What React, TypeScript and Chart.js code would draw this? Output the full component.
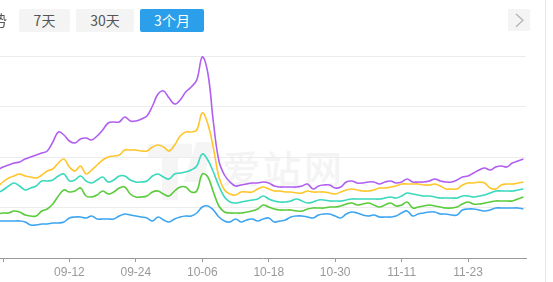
import React, { useEffect, useRef } from "react";
import { Chart, registerables } from "chart.js";

Chart.register(...registerables);

const dates = [
  "08-30", "08-31",
  "09-01", "09-02", "09-03", "09-04", "09-05", "09-06", "09-07", "09-08", "09-09", "09-10",
  "09-11", "09-12", "09-13", "09-14", "09-15", "09-16", "09-17", "09-18", "09-19", "09-20",
  "09-21", "09-22", "09-23", "09-24", "09-25", "09-26", "09-27", "09-28", "09-29", "09-30",
  "10-01", "10-02", "10-03", "10-04", "10-05", "10-06", "10-07", "10-08", "10-09", "10-10",
  "10-11", "10-12", "10-13", "10-14", "10-15", "10-16", "10-17", "10-18", "10-19", "10-20",
  "10-21", "10-22", "10-23", "10-24", "10-25", "10-26", "10-27", "10-28", "10-29", "10-30", "10-31",
  "11-01", "11-02", "11-03", "11-04", "11-05", "11-06", "11-07", "11-08", "11-09", "11-10",
  "11-11", "11-12", "11-13", "11-14", "11-15", "11-16", "11-17", "11-18", "11-19", "11-20",
  "11-21", "11-22", "11-23", "11-24", "11-25", "11-26", "11-27", "11-28", "11-29", "11-30",
  "12-01", "12-02", "12-03",
];

// indices (into dates) that carry a tick mark on the x axis
const tickIndices = [1, 13, 25, 37, 49, 61, 73, 85];
const hiddenTickLabels = ["08-31"];
const yGridValues = [0, 50.5, 101, 151.5, 202];

const purple = [
  88, 91, 93, 95, 96, 99, 101, 103, 105, 107,
  116, 126, 123, 117, 115, 119, 120, 118, 122, 128,
  135, 136, 136, 141, 137, 137, 139, 142, 152, 164,
  167, 160, 154, 158, 166, 171, 178, 201, 185, 136,
  97, 83, 76, 72, 73, 74, 75, 75, 76, 75,
  72, 71, 71, 71, 71, 72, 74, 69, 72, 73,
  73, 70, 71, 76, 77, 75, 75, 76, 76, 74,
  76, 77, 75, 76, 79, 76, 76, 76, 77, 79,
  77, 76, 76, 78, 81, 82, 85, 88, 90, 88,
  91, 92, 91, 95, 97, 99,
];

const yellow = [
  71, 76, 80, 82, 84, 82, 81, 80, 83, 87,
  89, 95, 99, 91, 87, 92, 84, 88, 93, 98,
  101, 102, 103, 108, 108, 108, 107, 107, 111, 113,
  111, 107, 113, 122, 126, 126, 128, 145, 134, 110,
  81, 68, 64, 63, 66, 66, 66, 69, 71, 69,
  67, 67, 66, 66, 65, 65, 67, 66, 66, 66,
  65, 64, 66, 68, 69, 68, 67, 67, 68, 70,
  70, 71, 72, 74, 74, 74, 74, 73, 73, 74,
  72, 69, 69, 69, 73, 75, 75, 76, 75, 70,
  69, 73, 74, 74, 75, 76,
];

const teal = [
  65, 68, 72, 75, 72, 68, 70, 72, 77, 77,
  78, 82, 84, 77, 78, 82, 77, 75, 78, 81,
  76, 78, 82, 82, 78, 76, 76, 77, 82, 84,
  81, 79, 84, 85, 86, 88, 92, 104, 98, 86,
  72, 61, 56, 55, 56, 57, 58, 59, 62, 59,
  57, 56, 56, 57, 59, 57, 55, 56, 58, 58,
  57, 57, 57, 58, 59, 59, 59, 59, 59, 59,
  60, 61, 60, 62, 65, 64, 63, 62, 62, 61,
  60, 60, 60, 60, 62, 62, 61, 62, 63, 65,
  67, 67, 67, 67, 68, 69,
];

const green = [
  44, 45, 45, 47, 46, 43, 42, 42, 47, 49,
  54, 62, 68, 66, 67, 70, 62, 61, 63, 67,
  64, 66, 70, 71, 64, 61, 61, 62, 66, 67,
  64, 62, 67, 71, 71, 66, 67, 84, 81, 66,
  52, 46, 45, 45, 45, 46, 47, 49, 53, 51,
  49, 48, 48, 48, 47, 47, 49, 50, 50, 50,
  51, 51, 52, 54, 55, 53, 54, 55, 53, 51,
  53, 55, 52, 53, 56, 50, 51, 52, 53, 52,
  51, 50, 50, 51, 54, 56, 54, 54, 55, 56,
  57, 57, 57, 57, 59, 61,
];

const blue = [
  37, 37, 37, 37, 37, 36, 33, 33, 34, 34,
  35, 35, 36, 40, 41, 41, 40, 42, 39, 39,
  39, 39, 42, 44, 43, 42, 41, 40, 37, 41,
  38, 36, 39, 41, 42, 42, 45, 51, 52, 48,
  41, 37, 36, 39, 36, 38, 39, 37, 39, 40,
  36, 37, 38, 41, 42, 42, 41, 40, 43, 44,
  44, 42, 40, 44, 46, 45, 43, 42, 43, 41,
  41, 41, 42, 45, 47, 42, 44, 45, 46, 46,
  44, 44, 43, 43, 48, 49, 49, 48, 47, 48,
  50, 50, 50, 50, 50, 49,
];

const seriesList = [
  { name: "purple", values: purple, color: "#b05ff0" },
  { name: "yellow", values: yellow, color: "#ffc62b" },
  { name: "teal", values: teal, color: "#3ad9bd" },
  { name: "green", values: green, color: "#5acb3b" },
  { name: "blue", values: blue, color: "#3ea5f1" },
];

function ChartCanvas() {
  const ref = useRef<HTMLCanvasElement | null>(null);
  useEffect(() => {
    if (!ref.current) return;
    const chart = new Chart(ref.current, {
      type: "line",
      data: {
        datasets: seriesList.map((s) => ({
          label: s.name,
          data: s.values.map((v, i) => ({ x: i, y: v })),
          borderColor: s.color,
          backgroundColor: s.color,
          borderWidth: 1.6,
          pointRadius: 0,
          tension: 0.4,
          fill: false,
        })),
      },
      options: {
        responsive: false,
        animation: false,
        devicePixelRatio: 1,
        events: [],
        layout: { padding: { left: 0, right: 27, top: 56, bottom: 7 } },
        plugins: { legend: { display: false }, tooltip: { enabled: false } },
        scales: {
          x: {
            type: "linear",
            min: 0.458,
            max: 95.47,
            afterBuildTicks: (scale: any) => {
              scale.ticks = tickIndices.map((v) => ({ value: v }));
            },
            grid: {
              drawOnChartArea: false,
              drawTicks: true,
              tickLength: 4,
              color: "#9a9a9a",
            },
            border: { display: true, color: "#9a9a9a", width: 1 },
            ticks: {
              autoSkip: false,
              maxRotation: 0,
              padding: 3,
              color: "#999999",
              font: { family: '"Liberation Sans", Arial, sans-serif', size: 12, lineHeight: 1.25 },
              callback: (value: any) => {
                const label = dates[Math.round(Number(value))];
                return hiddenTickLabels.includes(label) ? "" : label;
              },
            },
          },
          y: {
            min: 0,
            max: 202,
            afterBuildTicks: (scale: any) => {
              scale.ticks = yGridValues.map((v) => ({ value: v }));
            },
            ticks: { display: false },
            border: { display: false },
            grid: {
              drawTicks: false,
              color: (ctx: any) => (ctx.tick && ctx.tick.value === 0 ? "rgba(0,0,0,0)" : "#ececec"),
              lineWidth: 1,
            },
          },
        },
      },
    });
    return () => chart.destroy();
  }, []);
  return (
    <canvas
      ref={ref}
      width={553}
      height={290}
      style={{ position: "absolute", left: 0, top: 0, width: 553, height: 290 }}
    />
  );
}

const btnBase: React.CSSProperties = {
  position: "absolute",
  top: 9,
  height: 23,
  lineHeight: "23px",
  textAlign: "center",
  fontSize: 14,
  borderRadius: 2,
  background: "#f4f4f4",
  color: "#555",
};

export default function App() {
  return (
    <div
      style={{
        position: "fixed",
        left: 0,
        top: 0,
        width: 553,
        height: 282,
        overflow: "hidden",
        background: "#ffffff",
        fontFamily: '"Noto Sans CJK SC", "Liberation Sans", sans-serif',
      }}
    >
      {/* watermark */}
      <div style={{ position: "absolute", left: 148, top: 142, width: 64, height: 60 }}>
        <div style={{ position: "absolute", left: 0, top: 2, width: 44, height: 14, background: "#f5f5f5" }} />
        <div style={{ position: "absolute", left: 14, top: 16, width: 16, height: 42, background: "#f5f5f5" }} />
        <div
          style={{
            position: "absolute",
            left: 42,
            top: 0,
            width: 18,
            height: 40,
            background: "#f5f5f5",
            transform: "skewX(-18deg)",
          }}
        />
      </div>
      <div
        style={{
          position: "absolute",
          left: 222,
          top: 145,
          fontSize: 38,
          lineHeight: "44px",
          letterSpacing: 3,
          color: "#f4f4f4",
          fontWeight: 500,
          whiteSpace: "nowrap",
        }}
      >
        爱站网
      </div>

      <ChartCanvas />

      {/* header */}
      <div
        style={{
          position: "absolute",
          left: -23,
          top: 11,
          fontSize: 15,
          lineHeight: "18px",
          color: "#555",
          whiteSpace: "nowrap",
        }}
      >
        趋势
      </div>
      <div style={{ ...btnBase, left: 19, width: 51 }}>7天</div>
      <div style={{ ...btnBase, left: 76, width: 58 }}>30天</div>
      <div style={{ ...btnBase, left: 140, width: 64, background: "#2c9fea", color: "#ffffff" }}>3个月</div>
      <div style={{ position: "absolute", left: 508, top: 9, width: 22, height: 22, background: "#f4f4f4" }}>
        <svg width="22" height="22" style={{ position: "absolute", left: 0, top: 0 }}>
          <polyline points="8,5 15,11.3 8,17.7" fill="none" stroke="#b0b0b0" strokeWidth="1.2" />
        </svg>
      </div>
      <div style={{ position: "absolute", left: 545, top: 0, width: 1, height: 282, background: "#e8e8e8" }} />
    </div>
  );
}
